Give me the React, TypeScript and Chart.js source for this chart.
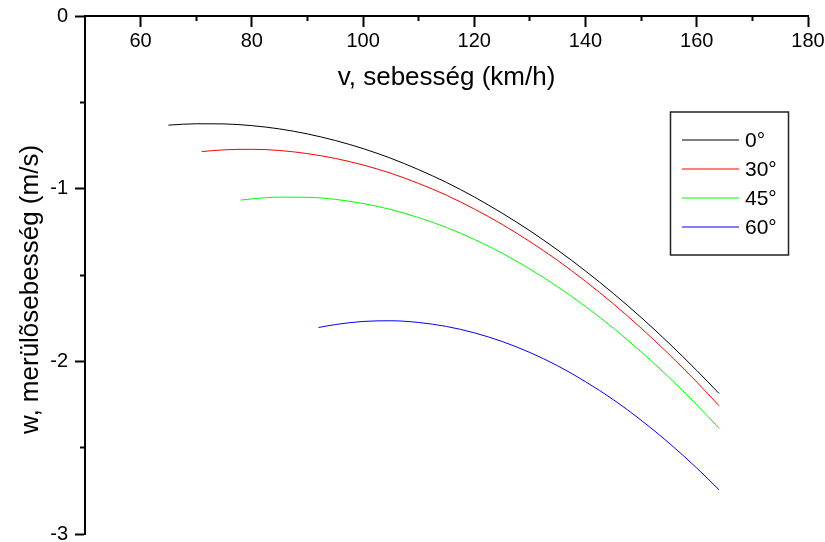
import { useEffect, useRef } from 'react';
import { Chart, registerables } from 'chart.js';

Chart.register(...registerables);

const FONT = '"Liberation Sans", Arial, Helvetica, sans-serif';

const xTitle = 'v, sebesség (km/h)';
const yTitle = 'w, merülõsebesség (m/s)';
const seriesLabels = ['0°', '30°', '45°', '60°'];
const seriesColors = ['#000000', '#ff0000', '#00ff00', '#0000ff'];

const xMajorTicks = [60, 80, 100, 120, 140, 160, 180];
const xMinorTicks = [70, 90, 110, 130, 150, 170];
const yMajorTicks = [-3, -2, -1, 0];
const yMinorTicks = [-2.5, -1.5, -0.5];

const v0deg = [65, 70, 75, 80, 85, 90, 95, 100, 105, 110, 115, 120, 125, 130, 135, 140, 145, 150, 155, 160, 164];
const w0deg = [-0.632, -0.624, -0.625, -0.635, -0.654, -0.683, -0.721, -0.768, -0.824, -0.89, -0.964, -1.048, -1.142, -1.244, -1.356, -1.477, -1.607, -1.746, -1.895, -2.053, -2.186];

const v30deg = [71, 75, 80, 85, 90, 95, 100, 105, 110, 115, 120, 125, 130, 135, 140, 145, 150, 155, 160, 164];
const w30deg = [-0.785, -0.775, -0.772, -0.779, -0.797, -0.825, -0.863, -0.911, -0.97, -1.038, -1.118, -1.207, -1.307, -1.416, -1.537, -1.667, -1.808, -1.959, -2.12, -2.257];

const v45deg = [78, 80, 85, 90, 95, 100, 105, 110, 115, 120, 125, 130, 135, 140, 145, 150, 155, 160, 164];
const w45deg = [-1.066, -1.059, -1.049, -1.05, -1.062, -1.086, -1.121, -1.168, -1.225, -1.294, -1.374, -1.466, -1.569, -1.683, -1.808, -1.945, -2.093, -2.252, -2.388];

const v60deg = [92, 95, 100, 105, 110, 115, 120, 125, 130, 135, 140, 145, 150, 155, 160, 164];
const w60deg = [-1.804, -1.787, -1.769, -1.765, -1.775, -1.798, -1.835, -1.885, -1.949, -2.026, -2.118, -2.222, -2.341, -2.473, -2.618, -2.744];

const seriesV = [v0deg, v30deg, v45deg, v60deg];
const seriesW = [w0deg, w30deg, w45deg, w60deg];

const legendBoxPlugin = {
  id: 'legendBox',
  afterDraw(chart: any) {
    const ctx = chart.ctx;
    ctx.save();
    ctx.strokeStyle = '#222222';
    ctx.lineWidth = 1.5;
    ctx.strokeRect(670.5, 112, 118, 143);
    chart.data.datasets.forEach((ds: any, i: number) => {
      const y = 140 + i * 29;
      ctx.strokeStyle = ds.borderColor;
      ctx.lineWidth = 1.2;
      ctx.beginPath();
      ctx.moveTo(682, y);
      ctx.lineTo(739, y);
      ctx.stroke();
      ctx.fillStyle = '#000000';
      ctx.font = `21px ${FONT}`;
      ctx.textBaseline = 'middle';
      ctx.textAlign = 'left';
      ctx.fillText(ds.label, 745, y + 1);
    });
    ctx.restore();
  },
};

const zeroHeight = (s: any) => {
  s.height = 0;
  s.paddingLeft = 0;
  s.paddingRight = 0;
  s.paddingTop = 0;
  s.paddingBottom = 0;
};
const zeroWidth = (s: any) => {
  s.width = 0;
  s.paddingLeft = 0;
  s.paddingRight = 0;
  s.paddingTop = 0;
  s.paddingBottom = 0;
};

export default function App() {
  const ref = useRef<HTMLCanvasElement | null>(null);

  useEffect(() => {
    if (!ref.current) return;
    const datasets = seriesLabels.map((label, i) => ({
      label,
      data: seriesV[i].map((x, j) => ({ x, y: seriesW[i][j] })),
      borderColor: seriesColors[i],
      backgroundColor: seriesColors[i],
      borderWidth: 1,
      pointRadius: 0,
      fill: false,
      cubicInterpolationMode: 'monotone' as const,
      xAxisID: 'x',
      yAxisID: 'y',
    }));

    const chart = new Chart(ref.current, {
      type: 'line',
      data: { datasets },
      plugins: [legendBoxPlugin],
      options: {
        animation: false,
        responsive: true,
        maintainAspectRatio: false,
        layout: { padding: { left: 0, top: 16, right: 17, bottom: 8 } },
        plugins: {
          legend: { display: false },
          tooltip: { enabled: false },
          title: { display: false },
        },
        scales: {
          x: {
            type: 'linear',
            position: { y: 0 } as any,
            min: 50,
            max: 180,
            afterBuildTicks: (s: any) => {
              s.ticks = xMajorTicks.map((value) => ({ value }));
            },
            afterFit: zeroHeight,
            grid: { drawOnChartArea: false, drawTicks: true, tickLength: 10, tickWidth: 2, tickColor: '#000000' },
            border: { display: true, color: '#000000', width: 2 },
            ticks: {
              color: '#000000',
              font: { family: FONT, size: 20 },
              padding: 3,
              autoSkip: false,
              maxRotation: 0,
              callback: (v: any) => String(v),
            },
            title: {
              display: true,
              text: xTitle,
              color: '#000000',
              font: { family: FONT, size: 26 },
              padding: { top: 0, bottom: -77 },
            },
          },
          xMinor: {
            type: 'linear',
            position: { y: 0 } as any,
            min: 50,
            max: 180,
            afterBuildTicks: (s: any) => {
              s.ticks = xMinorTicks.map((value) => ({ value }));
            },
            afterFit: zeroHeight,
            grid: { drawOnChartArea: false, drawTicks: true, tickLength: 5, tickWidth: 2, tickColor: '#000000' },
            border: { display: false },
            ticks: { display: false },
          },
          y: {
            type: 'linear',
            position: 'left',
            min: -3,
            max: 0,
            afterBuildTicks: (s: any) => {
              s.ticks = yMajorTicks.map((value) => ({ value }));
            },
            afterFit: (s: any) => {
              s.width = 85;
              s.paddingTop = 0;
              s.paddingBottom = 0;
            },
            grid: { drawOnChartArea: false, drawTicks: true, tickLength: 10, tickWidth: 2, tickColor: '#000000' },
            border: { display: true, color: '#000000', width: 2 },
            ticks: {
              color: '#000000',
              font: { family: FONT, size: 20 },
              padding: 7,
              autoSkip: false,
              callback: (v: any) => String(v),
            },
            title: {
              display: true,
              text: yTitle + '    ',
              color: '#000000',
              font: { family: FONT, size: 26 },
              padding: { top: 15, bottom: 0 },
            },
          },
          yMinor: {
            type: 'linear',
            position: { x: 50 } as any,
            min: -3,
            max: 0,
            afterBuildTicks: (s: any) => {
              s.ticks = yMinorTicks.map((value) => ({ value }));
            },
            afterFit: zeroWidth,
            grid: { drawOnChartArea: false, drawTicks: true, tickLength: 5, tickWidth: 2, tickColor: '#000000' },
            border: { display: false },
            ticks: { display: false },
          },
        },
      } as any,
    });
    return () => chart.destroy();
  }, []);

  return (
    <div style={{ position: 'absolute', left: 0, top: 0, width: 825, height: 542, background: '#ffffff' }}>
      <canvas ref={ref} />
    </div>
  );
}
